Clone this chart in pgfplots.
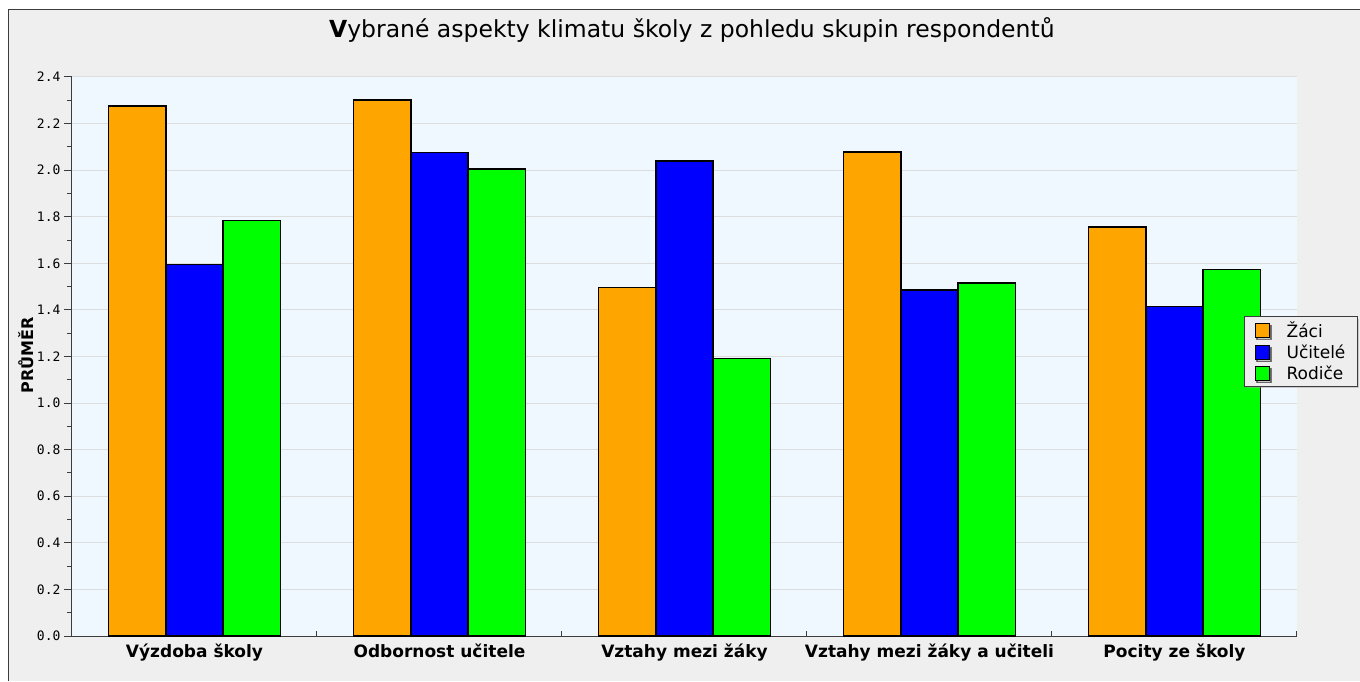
\documentclass[border=0pt]{standalone}
\usepackage{pgfplots}
\pgfplotsset{compat=1.18}
\usepackage{fontspec}
\setmainfont{DejaVu Sans}
\newfontfamily\monofont{DejaVu Sans Mono}
\usetikzlibrary{shadows}
\definecolor{zaci}{RGB}{255,165,0}
\definecolor{ucitele}{RGB}{0,0,255}
\definecolor{rodice}{RGB}{0,255,0}
\definecolor{plotbg}{RGB}{239,247,255}
\definecolor{outerbg}{RGB}{239,239,239}
\definecolor{gridc}{RGB}{221,221,221}
\definecolor{axisc}{RGB}{60,60,60}
\definecolor{legbg}{RGB}{238,238,238}
\begin{document}
\begin{tikzpicture}
\fill[white] (0pt,0pt) rectangle (1360pt,681pt);
\fill[outerbg] (8pt,0pt) rectangle (1360pt,671pt);
\draw[axisc, line width=1pt] (8pt,0pt) -- (8pt,671pt) -- (1360pt,671pt);
\begin{axis}[
  at={(72pt,45pt)}, anchor=south west,
  scale only axis, width=1225pt, height=559pt,
  ybar=0pt, bar width=57.3pt,
  xmin=-0.5, xmax=4.5, ymin=0, ymax=2.4,
  axis background/.style={fill=plotbg},
  axis x line*=bottom, axis y line*=left,
  axis line style={-, draw=axisc, line width=1pt},
  every outer x axis line/.append style={-},
  every outer y axis line/.append style={-},
  xtick={0,1,2,3,4},
  xticklabels={Výzdoba školy, Odbornost učitele, Vztahy mezi žáky, Vztahy mezi žáky a učiteli, Pocity ze školy},
  major x tick style={draw=none},
  minor xtick={0.5,1.5,2.5,3.5,4.5},
  minor x tick style={draw=axisc, line width=1pt},
  xtick align=inside, ytick align=outside,
  ytick={0,0.2,0.4,0.6,0.8,1.0,1.2,1.4,1.6,1.8,2.0,2.2,2.4},
  minor y tick num=1,
  major tick length=8pt, minor tick length=5pt,
  y tick style={draw=axisc, line width=1pt},
  ymajorgrids, grid style={draw=gridc, line width=1pt},
  xticklabel style={font=\bfseries\fontsize{17}{20}\selectfont, text=black, yshift=-4pt},
  yticklabel style={font=\monofont\fontsize{13}{15}\selectfont, text=black},
  /pgf/number format/.cd, fixed, fixed zerofill, precision=1, assume math mode=true,
  /pgfplots/.cd,
  title={\textbf{V}ybrané aspekty klimatu školy z pohledu skupin respondentů},
  title style={at={(axis description cs:0.506,1.073)}, anchor=center, yshift=0pt, font=\fontsize{23.5}{28}\selectfont},
  ylabel={PRŮMĚR},
  ylabel style={at={(axis description cs:-0.0318,0.502)}, anchor=base, font=\bfseries\fontsize{16}{18}\selectfont},
  legend style={at={(axis description cs:1.0033,0.509)}, anchor=center,
    fill=legbg, draw=axisc, line width=1pt,
    drop shadow={shadow xshift=2pt, shadow yshift=-2pt, fill=gray!70},
    font=\fontsize{17}{20}\selectfont, row sep=2pt, column sep=15pt,
    inner xsep=10pt, inner ysep=3pt,
    cells={anchor=west}},
  legend image code/.code={\draw[#1, line width=1pt] (0pt,-7pt) rectangle (14pt,7pt);},
  legend cell align=left,
]
\addplot[fill=zaci, draw=black, line width=1.5pt] coordinates {(0,2.275) (1,2.302) (2,1.497) (3,2.079) (4,1.755)};
\addplot[fill=ucitele, draw=black, line width=1.5pt] coordinates {(0,1.595) (1,2.076) (2,2.039) (3,1.486) (4,1.414)};
\addplot[fill=rodice, draw=black, line width=1.5pt] coordinates {(0,1.784) (1,2.004) (2,1.191) (3,1.515) (4,1.573)};
\legend{Žáci, Učitelé, Rodiče}
\end{axis}
\pgfresetboundingbox
\useasboundingbox (0pt,0pt) rectangle (1360pt,681pt);
\end{tikzpicture}
\end{document}
